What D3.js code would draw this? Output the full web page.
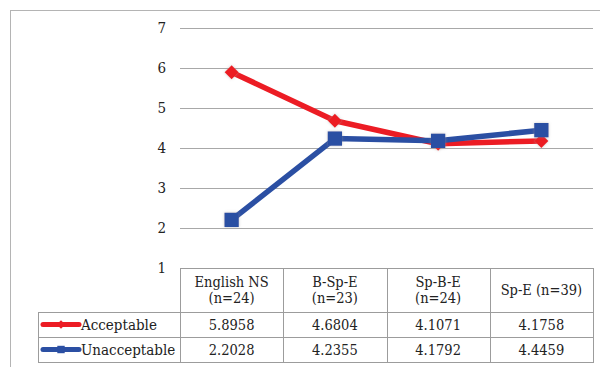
<!DOCTYPE html>
<html>
<head>
<meta charset="utf-8">
<script src="https://cdn.jsdelivr.net/npm/d3@7"></script>
<style>
  body { margin: 0; background: #fff; }
  svg { display: block; }
</style>
</head>
<body>
<div id="chart"></div>
<script>
const CATEGORIES = ["English NS|(n=24)", "B-Sp-E|(n=23)", "Sp-B-E|(n=24)", "Sp-E (n=39)"];
const ACCEPTABLE = [5.8958, 4.6804, 4.1071, 4.1758];
const UNACCEPTABLE = [2.2028, 4.2355, 4.1792, 4.4459];
const Y_TICKS = [1, 2, 3, 4, 5, 6, 7];

const series = [
    { name: "Acceptable", values: ACCEPTABLE, color: "#ec1c24", marker: "diamond" },
    { name: "Unacceptable", values: UNACCEPTABLE, color: "#2b4fa3", marker: "square" }
];

const width = 600, height = 367;
const FONT = "'DejaVu Serif Condensed', 'DejaVu Serif', serif";

const svg = d3.select("#chart").append("svg")
    .attr("width", width)
    .attr("height", height)
    .style("font-family", FONT);

const defs = svg.append("defs");
const glow = defs.append("filter").attr("id", "glow")
    .attr("x", "-50%").attr("y", "-50%").attr("width", "200%").attr("height", "200%");
glow.append("feGaussianBlur").attr("in", "SourceAlpha").attr("stdDeviation", 1.6).attr("result", "b");
glow.append("feFlood").attr("flood-color", "#999").attr("flood-opacity", 0.5);
glow.append("feComposite").attr("in2", "b").attr("operator", "in").attr("result", "s");
const mg = glow.append("feMerge");
mg.append("feMergeNode").attr("in", "s");
mg.append("feMergeNode").attr("in", "SourceGraphic");

// outer frame (cropped at right/bottom)
svg.append("rect")
    .attr("x", 10.5).attr("y", 10.5)
    .attr("width", 700).attr("height", 500)
    .attr("fill", "none").attr("stroke", "#b4b4b4");

const plotL = 180, plotR = 593, plotT = 28, plotB = 268;
const legendL = 38;
const headerB = 312, rowH = 25;

const x = d3.scaleBand().domain(CATEGORIES).range([plotL, plotR]).padding(0);
const y = d3.scaleLinear().domain([1, 7]).range([plotB, plotT]);

// gridlines
svg.append("g")
    .selectAll("line")
    .data(Y_TICKS.filter(t => t > 1))
    .join("line")
    .attr("x1", plotL).attr("x2", plotR)
    .attr("y1", d => Math.round(y(d)) + 0.5).attr("y2", d => Math.round(y(d)) + 0.5)
    .attr("stroke", "#a8a8a8");

// y axis labels
const yAxis = svg.append("g")
    .attr("transform", `translate(${plotL - 6},0)`)
    .call(d3.axisLeft(y).tickValues(Y_TICKS).tickSize(0).tickPadding(8).tickFormat(d3.format("d")));
yAxis.select(".domain").remove();
yAxis.selectAll("text")
    .style("font-family", FONT)
    .style("font-size", "15px")
    .attr("fill", "#222");

// data table
const tbl = svg.append("g").attr("stroke", "#9c9c9c").attr("shape-rendering", "crispEdges");
const rowYs = [headerB, headerB + rowH, headerB + 2 * rowH];
tbl.append("line").attr("x1", plotL).attr("x2", plotR).attr("y1", plotB + 0.5).attr("y2", plotB + 0.5);
rowYs.forEach(ry => {
    tbl.append("line").attr("x1", legendL).attr("x2", plotR).attr("y1", ry + 0.5).attr("y2", ry + 0.5);
});
const colEdges = [plotL, ...CATEGORIES.map(c => x(c) + x.bandwidth())];
colEdges.forEach(cx => {
    tbl.append("line").attr("x1", Math.round(cx) + 0.5).attr("x2", Math.round(cx) + 0.5)
        .attr("y1", plotB).attr("y2", rowYs[2] + 1);
});
tbl.append("line").attr("x1", legendL + 0.5).attr("x2", legendL + 0.5)
    .attr("y1", headerB).attr("y2", rowYs[2] + 1);

// header labels
const hdr = svg.append("g").attr("fill", "#222").style("font-size", "14.5px");
CATEGORIES.forEach(c => {
    const lines = c.split("|");
    const cy = (plotB + headerB) / 2;
    const t = hdr.append("text")
        .attr("x", x(c) + x.bandwidth() / 2)
        .attr("text-anchor", "middle");
    lines.forEach((ln, i) => {
        t.append("tspan")
            .attr("x", x(c) + x.bandwidth() / 2)
            .attr("y", cy + (i - (lines.length - 1) / 2) * 16)
            .attr("dy", "0.35em")
            .text(ln);
    });
});

// value rows + legend keys
const markerPath = (type, size) => d3.symbol()
    .type(type === "diamond" ? d3.symbolDiamond2 : d3.symbolSquare)
    .size(size)();

series.forEach((s, i) => {
    const cy = headerB + rowH * i + rowH / 2;
    svg.append("g").attr("fill", "#222").style("font-size", "14.5px")
        .selectAll("text")
        .data(s.values)
        .join("text")
        .attr("x", (d, j) => x(CATEGORIES[j]) + x.bandwidth() / 2)
        .attr("y", cy)
        .attr("dy", "0.35em")
        .attr("text-anchor", "middle")
        .text(d => d3.format(".4f")(d));

    const key = svg.append("g");
    key.append("line")
        .attr("x1", 43).attr("x2", 79)
        .attr("y1", cy).attr("y2", cy)
        .attr("stroke", s.color).attr("stroke-width", 5).attr("stroke-linecap", "round");
    key.append("path")
        .attr("d", markerPath(s.marker, s.marker === "diamond" ? 45 : 55))
        .attr("transform", `translate(61,${cy})`)
        .attr("fill", s.color);
    key.append("text")
        .attr("x", 81).attr("y", cy).attr("dy", "0.35em")
        .attr("fill", "#222").style("font-size", "15px")
        .text(s.name);
});

// series lines and markers
const line = d3.line()
    .x((d, j) => x(CATEGORIES[j]) + x.bandwidth() / 2)
    .y(d => y(d));

series.forEach(s => {
    svg.append("path")
        .datum(s.values)
        .attr("d", line)
        .attr("fill", "none")
        .attr("stroke", s.color)
        .attr("stroke-width", 5.5)
        .attr("stroke-linejoin", "round");
    svg.append("g")
        .selectAll("path")
        .data(s.values)
        .join("path")
        .attr("d", markerPath(s.marker, s.marker === "diamond" ? 125 : 205))
        .attr("transform", (d, j) => `translate(${x(CATEGORIES[j]) + x.bandwidth() / 2},${y(d)})`)
        .attr("fill", s.color)
        .attr("filter", "url(#glow)");
});
</script>
</body>
</html>
